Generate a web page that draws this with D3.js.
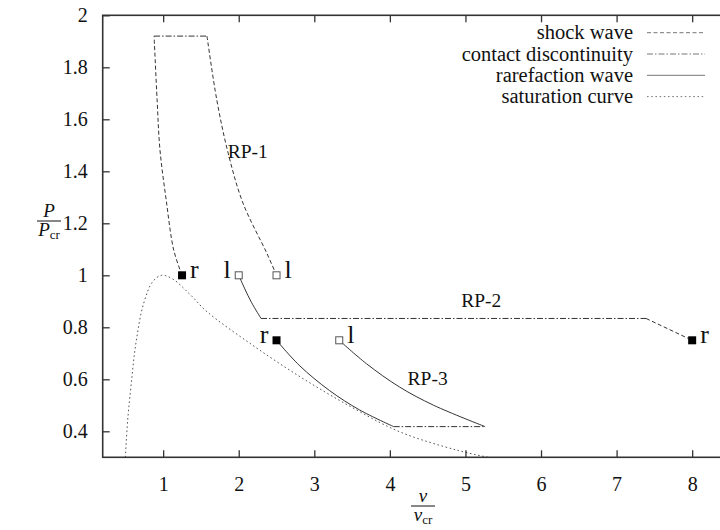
<!DOCTYPE html>
<html>
<head>
<meta charset="utf-8">
<script src="https://cdn.jsdelivr.net/npm/d3@7"></script>
<style>
  body { margin: 0; background: #fff; }
</style>
</head>
<body>
<div class="viz"></div>
<script>
// axis ticks
var xTicks = [1, 2, 3, 4, 5, 6, 7, 8];
var yTicks = [0.4, 0.6, 0.8, 1, 1.2, 1.4, 1.6, 1.8, 2];

// RP-1 : two shock curves joined by a contact discontinuity
var rp1ShockLeft  = [[1.25, 1.0], [1.14, 1.097], [1.04, 1.29], [0.958, 1.482], [0.92, 1.674], [0.88, 1.92]];
var rp1Contact    = [[0.88, 1.92], [1.58, 1.92]];
var rp1ShockRight = [[1.58, 1.92], [1.71, 1.674], [1.86, 1.47], [2.056, 1.278], [2.37, 1.086], [2.5, 1.0]];

// RP-2
var rp2Rarefaction = [[2.0, 1.0], [2.08, 0.948], [2.17, 0.895], [2.295, 0.834]];
var rp2Contact     = [[2.295, 0.834], [7.39, 0.834]];
var rp2Shock       = [[7.39, 0.834], [8.0, 0.75]];

// RP-3
var rp3RarefactionR = [[2.5, 0.75], [2.8, 0.654], [3.2, 0.557], [3.6, 0.482], [4.05, 0.418]];
var rp3Contact      = [[4.05, 0.418], [5.26, 0.418]];
var rp3RarefactionL = [[3.33, 0.75], [3.69, 0.66], [4.13, 0.57], [4.58, 0.5], [5.26, 0.418]];

// saturation curve
var saturation = [[0.5, 0.3], [0.53, 0.44], [0.58, 0.59], [0.64, 0.74], [0.74, 0.89], [0.86, 0.975],
  [0.98, 1.0], [1.13, 0.985], [1.36, 0.925], [1.58, 0.86], [2.15, 0.738], [2.81, 0.61],
  [3.48, 0.495], [4.13, 0.398], [4.88, 0.328], [5.3, 0.3]];

// states (filled = r, open = l)
var statesR = [[1.25, 1.0], [8.0, 0.75], [2.5, 0.75]];
var statesL = [[2.5, 1.0], [2.0, 1.0], [3.33, 0.75]];
var stateLabels = [
  {t: 'r', x: 1.25, y: 1.0, side: 1},
  {t: 'l', x: 2.5, y: 1.0, side: 1},
  {t: 'l', x: 2.0, y: 1.0, side: -1},
  {t: 'r', x: 2.5, y: 0.75, side: -1},
  {t: 'l', x: 3.33, y: 0.75, side: 1},
  {t: 'r', x: 8.0, y: 0.75, side: 1}
];
var rpLabels = [
  {t: 'RP-1', x: 2.12, y: 1.451},
  {t: 'RP-2', x: 5.21, y: 0.879},
  {t: 'RP-3', x: 4.5, y: 0.578}
];

var legendNames = ['shock wave', 'contact discontinuity', 'rarefaction wave', 'saturation curve'];

// line styles
var dashShock = '4,2.5';
var dashContact = '6,2,1.5,2';
var dashSat = '1.6,2.6';
var serif = '"Liberation Serif", "Times New Roman", "DejaVu Serif", serif';

var W = 720, H = 530;

var svg = d3.select('.viz')
  .append('svg')
  .attr('width', W)
  .attr('height', H)
  .style('font-family', serif);

var xScale = d3.scaleLinear().domain([0.2, 8.4]).range([102.7, 722.4]);
var yScale = d3.scaleLinear().domain([0.3, 2]).range([457.3, 15.3]);

var line = d3.line()
  .curve(d3.curveCatmullRom.alpha(0.5))
  .x(function(d){ return xScale(d[0]); })
  .y(function(d){ return yScale(d[1]); });

// clip to plot area
svg.append('clipPath').attr('id', 'plotclip')
  .append('rect')
  .attr('x', xScale(0.2)).attr('y', yScale(2))
  .attr('width', xScale(8.4) - xScale(0.2))
  .attr('height', yScale(0.3) - yScale(2));

var plot = svg.append('g').attr('clip-path', 'url(#plotclip)');

function drawPath(data, dash, color) {
  plot.append('path')
    .datum(data)
    .attr('d', line)
    .attr('fill', 'none')
    .attr('stroke', color || '#333')
    .attr('stroke-width', 1)
    .attr('stroke-dasharray', dash);
}

drawPath(saturation, dashSat, '#555');
drawPath(rp1ShockLeft, dashShock);
drawPath(rp1Contact, dashContact);
drawPath(rp1ShockRight, dashShock);
drawPath(rp2Rarefaction, null);
drawPath(rp2Contact, dashContact);
drawPath(rp2Shock, dashShock);
drawPath(rp3RarefactionR, null);
drawPath(rp3Contact, dashContact);
drawPath(rp3RarefactionL, null);

// markers
svg.selectAll('.stR')
  .data(statesR)
  .enter().append('rect')
  .attr('class', 'stR')
  .attr('x', function(d){ return xScale(d[0]) - 4; })
  .attr('y', function(d){ return yScale(d[1]) - 4; })
  .attr('width', 8).attr('height', 8)
  .attr('fill', '#000');

svg.selectAll('.stL')
  .data(statesL)
  .enter().append('rect')
  .attr('class', 'stL')
  .attr('x', function(d){ return xScale(d[0]) - 3.5; })
  .attr('y', function(d){ return yScale(d[1]) - 3.5; })
  .attr('width', 7).attr('height', 7)
  .attr('fill', '#fff')
  .attr('stroke', '#555')
  .attr('stroke-width', 1);

svg.selectAll('.stLabel')
  .data(stateLabels)
  .enter().append('text')
  .attr('class', 'stLabel')
  .attr('x', function(d){ return xScale(d.x) + d.side * 8; })
  .attr('y', function(d){ return yScale(d.y) + 3; })
  .attr('text-anchor', function(d){ return d.side > 0 ? 'start' : 'end'; })
  .style('font-family', serif)
  .style('font-size', '26px')
  .style('fill', '#111')
  .text(function(d){ return d.t; });

svg.selectAll('.rpLabel')
  .data(rpLabels)
  .enter().append('text')
  .attr('class', 'rpLabel')
  .attr('x', function(d){ return xScale(d.x); })
  .attr('y', function(d){ return yScale(d.y); })
  .attr('text-anchor', 'middle')
  .style('font-family', serif)
  .style('font-size', '19.5px')
  .style('fill', '#111')
  .text(function(d){ return d.t; });

// frame + axes (ticks inward, mirrored at top)
var axisColor = '#333';
svg.append('g')
  .attr('transform', 'translate(0,' + yScale(0.3) + ')')
  .call(d3.axisBottom(xScale).tickValues(xTicks).tickSize(-7).tickPadding(10).tickFormat(d3.format('d')))
  .call(function(g){
    g.attr('font-family', null).attr('font-size', null);
    g.select('.domain').remove();
    g.selectAll('line').attr('stroke', axisColor).attr('stroke-width', 1.3);
    g.selectAll('text').attr('dy', '1.2em').style('font-family', serif).style('font-size', '20px').style('fill', '#111');
  });

svg.append('g')
  .attr('transform', 'translate(0,' + yScale(2) + ')')
  .call(d3.axisTop(xScale).tickValues(xTicks).tickSize(-7).tickFormat(''))
  .call(function(g){
    g.select('.domain').remove();
    g.selectAll('line').attr('stroke', axisColor).attr('stroke-width', 1.3);
  });

svg.append('g')
  .attr('transform', 'translate(' + xScale(0.2) + ',0)')
  .call(d3.axisLeft(yScale).tickValues(yTicks).tickSize(-7).tickPadding(15).tickFormat(function(d){ return d3.format('~g')(d); }))
  .call(function(g){
    g.attr('font-family', null).attr('font-size', null);
    g.select('.domain').remove();
    g.selectAll('line').attr('stroke', axisColor).attr('stroke-width', 1.3);
    g.selectAll('text').style('font-family', serif).style('font-size', '20px').style('fill', '#111');
  });

svg.append('rect')
  .attr('x', xScale(0.2)).attr('y', yScale(2))
  .attr('width', xScale(8.4) - xScale(0.2))
  .attr('height', yScale(0.3) - yScale(2))
  .attr('fill', 'none')
  .attr('stroke', axisColor)
  .attr('stroke-width', 1.6);

// legend
var legend = svg.append('g').attr('class', 'legend');
var legendDash = [dashShock, dashContact, null, dashSat];
legendNames.forEach(function(name, i) {
  var ly = 32.7 + i * 21.3;
  legend.append('text')
    .attr('x', 633)
    .attr('y', ly + 6.5)
    .attr('text-anchor', 'end')
    .style('font-family', serif)
    .style('font-size', '20.5px')
    .style('fill', '#111')
    .text(name);
  legend.append('line')
    .attr('x1', 647).attr('x2', 705)
    .attr('y1', ly).attr('y2', ly)
    .attr('stroke', '#777')
    .attr('stroke-width', 1)
    .attr('stroke-dasharray', legendDash[i]);
});

// axis labels as fractions
function fraction(cx, cy, sym) {
  var g = svg.append('g');
  g.append('text')
    .attr('x', cx).attr('y', cy - 4)
    .attr('text-anchor', 'middle')
    .style('font-family', serif)
    .style('font-size', '19px')
    .style('font-style', 'italic')
    .style('fill', '#111')
    .text(sym);
  g.append('line')
    .attr('x1', cx - 12).attr('x2', cx + 12)
    .attr('y1', cy).attr('y2', cy)
    .attr('stroke', '#111').attr('stroke-width', 1);
  var bottom = g.append('text')
    .attr('x', cx).attr('y', cy + 15)
    .attr('text-anchor', 'middle')
    .style('font-family', serif)
    .style('font-size', '19px')
    .style('fill', '#111');
  bottom.append('tspan').style('font-style', 'italic').text(sym);
  bottom.append('tspan').attr('dy', 3).style('font-size', '13px').text('cr');
}
fraction(49, 221, 'P');
fraction(423, 506, 'v');
</script>
</body>
</html>
